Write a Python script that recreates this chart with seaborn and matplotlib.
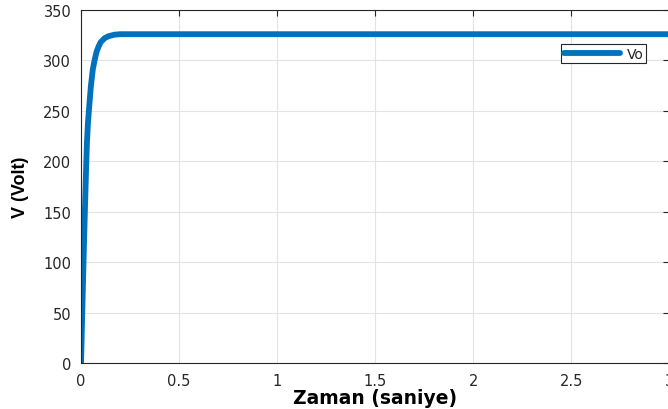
import matplotlib
matplotlib.use("Agg")
import matplotlib.pyplot as plt
import seaborn as sns
import pandas as pd

# Output voltage response over time
zaman = [0, 0.005, 0.01, 0.015, 0.02, 0.025, 0.03, 0.035, 0.04, 0.05, 0.06,
         0.07, 0.08, 0.09, 0.10, 0.12, 0.14, 0.17, 0.20, 0.30, 1.0, 2.0, 3.0]
vo = [0, 40, 80, 118, 153, 187, 218, 237, 250, 274, 291,
      301, 309, 314, 318, 322, 324, 325.5, 326, 326, 326, 326, 326]

x_ticks = [0, 0.5, 1, 1.5, 2, 2.5, 3]
x_tick_labels = ["0", "0.5", "1", "1.5", "2", "2.5", "3"]
y_ticks = [0, 50, 100, 150, 200, 250, 300, 350]

df = pd.DataFrame({"Zaman": zaman, "V": vo})

sns.set_style("white")
plt.rcParams["font.family"] = ["DejaVu Sans"]

fig = plt.figure(figsize=(6.68, 4.10), dpi=100)
ax = fig.add_axes([0.1213, 0.1122, 0.8807, 0.861])

sns.lineplot(data=df, x="Zaman", y="V", ax=ax, color="#0072BD",
             linewidth=4.2, label="Vo")

ax.set_xlim(0, 3)
ax.set_ylim(0, 350)
ax.set_xticks(x_ticks)
ax.set_xticklabels(x_tick_labels)
ax.set_yticks(y_ticks)

ax.grid(True, color="#e3e3e3", linewidth=0.8)
ax.set_axisbelow(True)
for side in ["left", "bottom", "top", "right"]:
    ax.spines[side].set_visible(True)
    ax.spines[side].set_color("#262626")
    ax.spines[side].set_linewidth(0.8)

ax.tick_params(axis="both", direction="in", length=4, width=0.8,
               colors="#262626", labelsize=10.5, top=True, right=True,
               labeltop=False, labelright=False)
ax.tick_params(axis="x", pad=7)
ax.tick_params(axis="y", pad=7)

ax.set_xlabel("Zaman (saniye)", fontsize=13.5, fontweight="bold",
              color="black", labelpad=0)
ax.set_ylabel("V (Volt)", fontsize=13, fontweight="bold",
              color="black", labelpad=10,
              family=["Liberation Sans", "DejaVu Sans"])

leg = ax.legend(loc="upper right", bbox_to_anchor=(0.961, 0.904),
                borderaxespad=0, fontsize=10, handlelength=4.1,
                handletextpad=0.45, borderpad=0.2, frameon=True,
                fancybox=False, framealpha=1)
leg.get_frame().set_edgecolor("#262626")
leg.get_frame().set_linewidth(0.8)

fig.savefig("out.png", dpi=100)
